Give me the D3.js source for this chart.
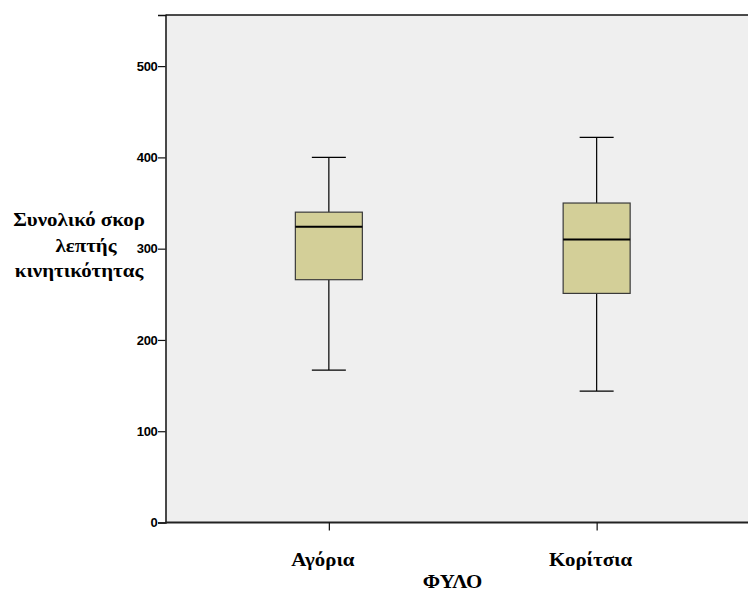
<!DOCTYPE html>
<html>
<head>
<meta charset="utf-8">
<script src="https://cdn.jsdelivr.net/npm/d3@7"></script>
<style>
  html, body { margin: 0; padding: 0; background: #ffffff; overflow: hidden; }
  svg { display: block; }
</style>
</head>
<body>
<svg id="chart" width="748" height="593"></svg>
<script>
// Box plot of total fine-motor score by gender
const categories = ["Αγόρια", "Κορίτσια"];
const whiskerLow  = [167, 144];
const q1Values    = [266, 251];
const medians     = [324, 310];
const q3Values    = [340, 350];
const whiskerHigh = [400, 422];
const yTicks = [0, 100, 200, 300, 400, 500];
const yDomainMax = 556;

const boxes = categories.map((c, i) => ({
  cat: c, lo: whiskerLow[i], q1: q1Values[i], med: medians[i], q3: q3Values[i], hi: whiskerHigh[i]
}));

const svg = d3.select("#chart");
const plot = { left: 165.5, top: 15, right: 760, bottom: 522.5 };

const y = d3.scaleLinear().domain([0, yDomainMax]).range([plot.bottom, plot.top]);
const x = d3.scalePoint().domain(categories).range([plot.left, plot.right]).padding(0.61);

const serif = "'Liberation Serif', 'Times New Roman', serif";
const stretch = 1.1; // slightly wide serif labels

// serif label helper: bold text centred at (cx, baseline)
function serifLabel(parent, cx, baseline, txt) {
  parent.append("g")
    .attr("transform", `translate(${cx},${baseline}) scale(${stretch},1)`)
    .append("text")
    .attr("text-anchor", "middle")
    .attr("font-family", serif)
    .attr("font-weight", "bold").attr("font-size", 19)
    .attr("fill", "#000")
    .text(txt);
}

// plot background
svg.append("rect")
  .attr("x", plot.left).attr("y", plot.top)
  .attr("width", plot.right - plot.left).attr("height", plot.bottom - plot.top)
  .attr("fill", "#efefef");

// frame: top edge
svg.append("line")
  .attr("x1", plot.left).attr("x2", plot.right)
  .attr("y1", plot.top).attr("y2", plot.top)
  .attr("stroke", "#111").attr("stroke-width", 1.5);

const boxW = 67, capW = 34;

const g = svg.append("g");
boxes.forEach(b => {
  const cx = x(b.cat);
  // whiskers
  g.append("line").attr("x1", cx).attr("x2", cx).attr("y1", y(b.hi)).attr("y2", y(b.q3))
    .attr("stroke", "#000").attr("stroke-width", 1.2);
  g.append("line").attr("x1", cx).attr("x2", cx).attr("y1", y(b.q1)).attr("y2", y(b.lo))
    .attr("stroke", "#000").attr("stroke-width", 1.2);
  // caps
  [b.hi, b.lo].forEach(v => {
    g.append("line").attr("x1", cx - capW / 2).attr("x2", cx + capW / 2)
      .attr("y1", y(v)).attr("y2", y(v))
      .attr("stroke", "#000").attr("stroke-width", 1.2);
  });
  // box
  g.append("rect")
    .attr("x", cx - boxW / 2).attr("y", y(b.q3))
    .attr("width", boxW).attr("height", y(b.q1) - y(b.q3))
    .attr("fill", "#d3cf98").attr("stroke", "#3a3a3a").attr("stroke-width", 1.2);
  // median
  g.append("line").attr("x1", cx - boxW / 2).attr("x2", cx + boxW / 2)
    .attr("y1", y(b.med)).attr("y2", y(b.med))
    .attr("stroke", "#000").attr("stroke-width", 2);
});

// y axis
const yAxis = svg.append("g")
  .attr("transform", `translate(${plot.left},0)`)
  .call(d3.axisLeft(y).tickValues(yTicks).tickSize(7.5).tickPadding(0.5).tickFormat(d3.format("d")));
yAxis.select(".domain").attr("stroke", "#111").attr("stroke-width", 1.5);
yAxis.selectAll(".tick line").attr("stroke", "#111").attr("stroke-width", 1.2);
yAxis.selectAll(".tick text")
  .attr("font-family", "'Liberation Sans', Arial, sans-serif")
  .attr("font-weight", "bold").attr("font-size", 13).attr("fill", "#000")
  .attr("letter-spacing", -0.3);

// x axis
const xAxis = svg.append("g")
  .attr("transform", `translate(0,${plot.bottom})`)
  .call(d3.axisBottom(x).tickSize(8).tickFormat(""));
xAxis.select(".domain").attr("stroke", "#222").attr("stroke-width", 2)
  .attr("d", `M${plot.left},0H${plot.right}`);
xAxis.selectAll(".tick line").attr("stroke", "#111").attr("stroke-width", 1.2);

// category labels
const catG = svg.append("g");
categories.forEach(c => serifLabel(catG, x(c) - 6, 566, c));

// x axis title
serifLabel(svg, 452.5, 588, "ΦΥΛΟ");

// y axis title
const yTitle = ["Συνολικό σκορ", "λεπτής", "κινητικότητας"];
const titleG = svg.append("g");
yTitle.forEach((t, i) => serifLabel(titleG, i === 1 ? 86 : 79, 226 + i * 25.5, t));
</script>
</body>
</html>
